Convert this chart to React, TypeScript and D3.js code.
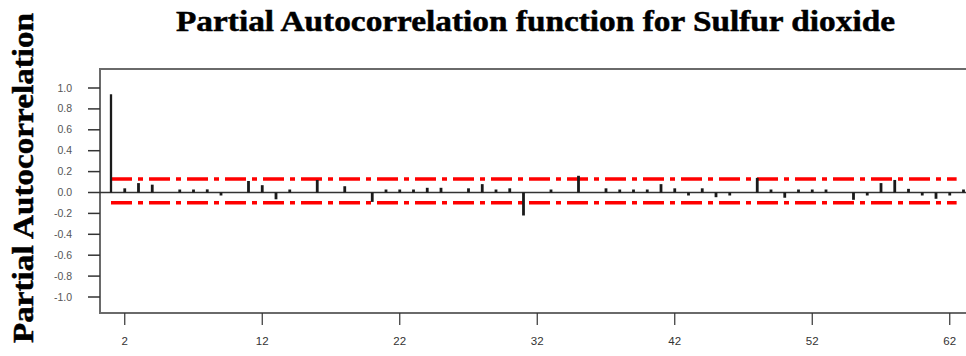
import React from "react";
import * as d3 from "d3";

// PACF values by lag
const lags: number[] = d3.range(1, 64);
const pacf: number[] = [
  0.94, 0.04, 0.09, 0.075, 0, 0.02, 0.01, 0.03, -0.01, 0,
  0.11, 0.07, -0.065, 0.01, 0, 0.12, 0, 0.06, 0, -0.09,
  0.015, 0.015, 0.015, 0.045, 0.045, 0, 0.04, 0.08, 0.02, 0.04,
  -0.22, 0, 0.02, 0, 0.16, 0, 0.04, 0.015, 0.015, 0.02,
  0.08, 0.04, -0.01, 0.04, -0.045, -0.01, 0, 0.14, 0.015, -0.05,
  0.02, 0.015, 0.02, 0, -0.07, -0.01, 0.09, 0.12, 0.035, -0.01,
  -0.06, -0.01, 0.02,
];
const upperBand = 0.13;
const lowerBand = -0.098;
const yTicks: number[] = [1.0, 0.8, 0.6, 0.4, 0.2, 0.0, -0.2, -0.4, -0.6, -0.8, -1.0];
const xTicks: number[] = [2, 12, 22, 32, 42, 52, 62];

const W = 966;
const H = 356;
const frame = { left: 100, top: 69, bottom: 313 };

const App: React.FC = () => {
  const x = d3.scaleLinear().domain([1, 63]).range([111, 963.5]);
  const y = d3.scaleLinear().domain([-1, 1]).range([297, 88]);
  const y0 = y(0);

  const tickFont = "'Liberation Sans Narrow', 'Arial Narrow', 'Liberation Sans', Arial, sans-serif";
  const serif = "'Liberation Serif', 'Times New Roman', serif";

  return (
    <svg
      width={W}
      height={H}
      style={{ position: "absolute", left: 0, top: 0, background: "#fff" }}
    >
      <text
        x={176}
        y={31}
        fontFamily={serif}
        fontWeight="bold"
        fontSize={30}
        textLength={719}
        lengthAdjust="spacingAndGlyphs"
        fill="#000"
        stroke="#000"
        strokeWidth={0.5}
      >
        Partial Autocorrelation function for Sulfur dioxide
      </text>

      <text
        transform={`translate(33,178) rotate(-90)`}
        textAnchor="middle"
        fontFamily={serif}
        fontWeight="bold"
        fontSize={29}
        textLength={330}
        lengthAdjust="spacingAndGlyphs"
        fill="#000"
        stroke="#000"
        strokeWidth={0.5}
      >
        Partial Autocorrelation
      </text>

      {/* frame */}
      <path
        d={`M${W},${frame.top}H${frame.left}V${frame.bottom}H${W}`}
        fill="none"
        stroke="#6a6a6a"
        strokeWidth={2}
      />

      {/* y axis */}
      {yTicks.map((t) => (
        <g key={t}>
          <line x1={88} x2={frame.left} y1={y(t)} y2={y(t)} stroke="#333" strokeWidth={1.5} />
          <text
            x={72}
            y={y(t) + 3.5}
            textAnchor="end"
            fontFamily={tickFont}
            fontSize={10.5}
            fill="#555"
          >
            {t.toFixed(1)}
          </text>
        </g>
      ))}

      {/* x axis */}
      {xTicks.map((t) => (
        <g key={t}>
          <line x1={x(t)} x2={x(t)} y1={frame.bottom} y2={frame.bottom + 12} stroke="#333" strokeWidth={1.2} />
          <text
            x={x(t)}
            y={frame.bottom + 32}
            textAnchor="middle"
            fontFamily={tickFont}
            fontSize={11.5}
            fill="#333"
          >
            {t}
          </text>
        </g>
      ))}

      {/* zero line */}
      <line x1={frame.left} x2={W} y1={y0} y2={y0} stroke="#333" strokeWidth={1.5} />

      {/* confidence bands */}
      {[upperBand, lowerBand].map((b) => (
        <line
          key={b}
          x1={x(1)}
          x2={x(62.5)}
          y1={y(b)}
          y2={y(b)}
          stroke="#ff0000"
          strokeWidth={3.5}
          strokeDasharray="21 6 5 6"
        />
      ))}

      {/* spikes */}
      {lags.map((lag, i) => {
        const v = pacf[i];
        if (v === 0) return null;
        const yv = y(v);
        let top = Math.min(yv, y0);
        let h = Math.abs(yv - y0);
        if (h < 3) {
          h = 3;
          top = v > 0 ? y0 - 3 : y0;
        }
        const w = lag === 1 ? 2.3 : 2.8;
        return (
          <rect key={lag} x={x(lag) - w / 2} y={top} width={w} height={h} fill="#1a1a1a" />
        );
      })}
    </svg>
  );
};

export default App;
